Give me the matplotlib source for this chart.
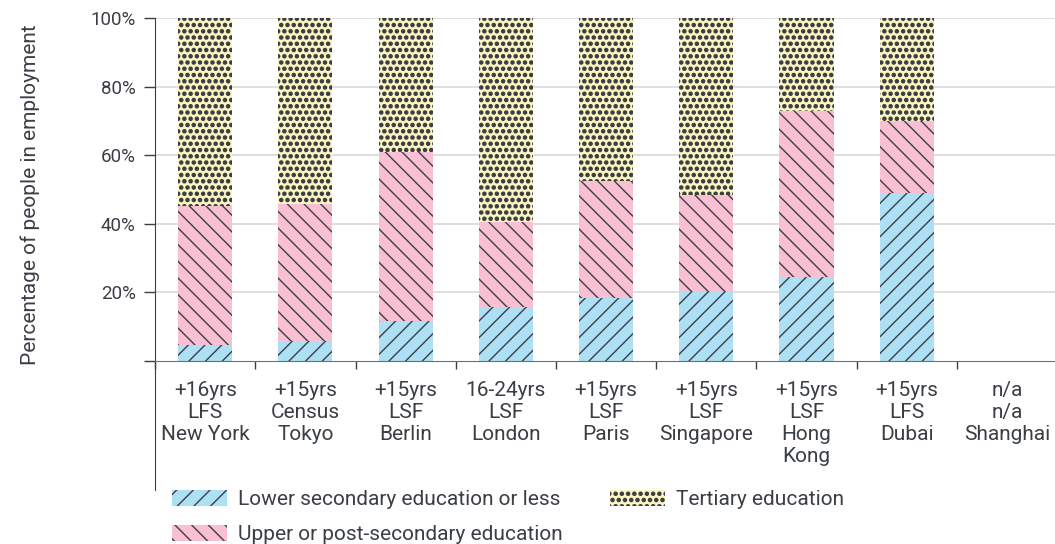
import matplotlib.pyplot as plt
import matplotlib.hatch as mhatch
import numpy as np
from matplotlib.ticker import FixedLocator

plt.rcParams['font.family'] = ['Roboto', 'DejaVu Sans']
plt.rcParams['hatch.color'] = '#3a3f45'
plt.rcParams['hatch.linewidth'] = 1.0


# bigger, a bit sparser dots for the tertiary pattern (row count must stay even)
def _dots_init(self, hatch, density):
    self.num_rows = hatch.count('.') * 4
    mhatch.Circles.__init__(self, hatch, density)


mhatch.SmallFilledCircles.__init__ = _dots_init
mhatch.SmallFilledCircles.size = 0.25

categories = ['+16yrs\nLFS\nNew York', '+15yrs\nCensus\nTokyo', '+15yrs\nLSF\nBerlin',
              '16-24yrs\nLSF\nLondon', '+15yrs\nLSF\nParis', '+15yrs\nLSF\nSingapore',
              '+15yrs\nLSF\nHong\nKong', '+15yrs\nLFS\nDubai', 'n/a\nn/a\nShanghai']
lower = [4.7, 5.8, 11.7, 15.7, 18.4, 20.1, 24.5, 49.0, 0]
upper = [40.5, 40.0, 49.3, 24.8, 34.1, 28.3, 48.4, 21.0, 0]
tertiary = [54.8, 54.2, 39.0, 59.5, 47.5, 51.6, 27.1, 30.0, 0]

text_col = '#3a3f45'
fig = plt.figure(figsize=(10.55, 5.44), dpi=100)
ax = fig.add_axes([0.147, 0.099, 0.855, 0.868])

x = np.arange(len(categories))
lo = np.array(lower) / 100
up = np.array(upper) / 100
te = np.array(tertiary) / 100
w = 0.54
b1 = ax.bar(x, lo, w, color='#aee0f5', hatch='//', linewidth=0, label='Lower secondary education or less')
b2 = ax.bar(x, up, w, bottom=lo, color='#f8c0d2', hatch='\\\\', linewidth=0, label='Upper or post-secondary education')
b3 = ax.bar(x, te, w, bottom=lo + up, color='#fdf5c0', hatch='....', linewidth=0, label='Tertiary education')

ax.set_xlim(-0.5, len(categories) - 0.5)
ax.set_ylim(-0.376, 1.0)
ax.set_yticks([0, 0.2, 0.4, 0.6, 0.8, 1.0])
ax.set_yticklabels(['', '20%', '40%', '60%', '80%', '100%'])
for yv in [0.2, 0.4, 0.6, 0.8, 1.0]:
    ax.axhline(yv, color='#d9d9d9', lw=1.2, zorder=0)

ax.xaxis.set_major_locator(FixedLocator(np.arange(len(categories) + 1) - 0.5))
ax.xaxis.set_minor_locator(FixedLocator(x))
ax.set_xticklabels([])
ax.set_xticklabels(categories, minor=True)
for t in ax.get_xticklabels(minor=True):
    t.set_linespacing(1.1)
ax.tick_params(axis='x', which='major', length=6, color=text_col, width=1)
ax.tick_params(axis='x', which='minor', length=0, pad=14, labelsize=15, labelcolor=text_col)
ax.tick_params(axis='y', length=8, color=text_col, width=1, labelsize=13.5, labelcolor=text_col, pad=6)

ax.spines['top'].set_visible(False)
ax.spines['right'].set_visible(False)
ax.spines['bottom'].set_position(('data', 0))
ax.spines['bottom'].set_color('#6b7076')
ax.spines['left'].set_color(text_col)

ax.set_ylabel('Percentage of people in employment', fontsize=15, color=text_col)
ax.yaxis.set_label_coords(-0.128, 0.625)

fig.legend(handles=[b1, b2, b3], ncol=2, loc='upper left', bbox_to_anchor=(0.163, 0.099),
           frameon=False, fontsize=15, labelcolor=text_col, handlelength=2.65, handleheight=0.77,
           columnspacing=2.3, handletextpad=0.5, labelspacing=0.78, borderaxespad=0, borderpad=0)

fig.savefig('out.png', dpi=100)
